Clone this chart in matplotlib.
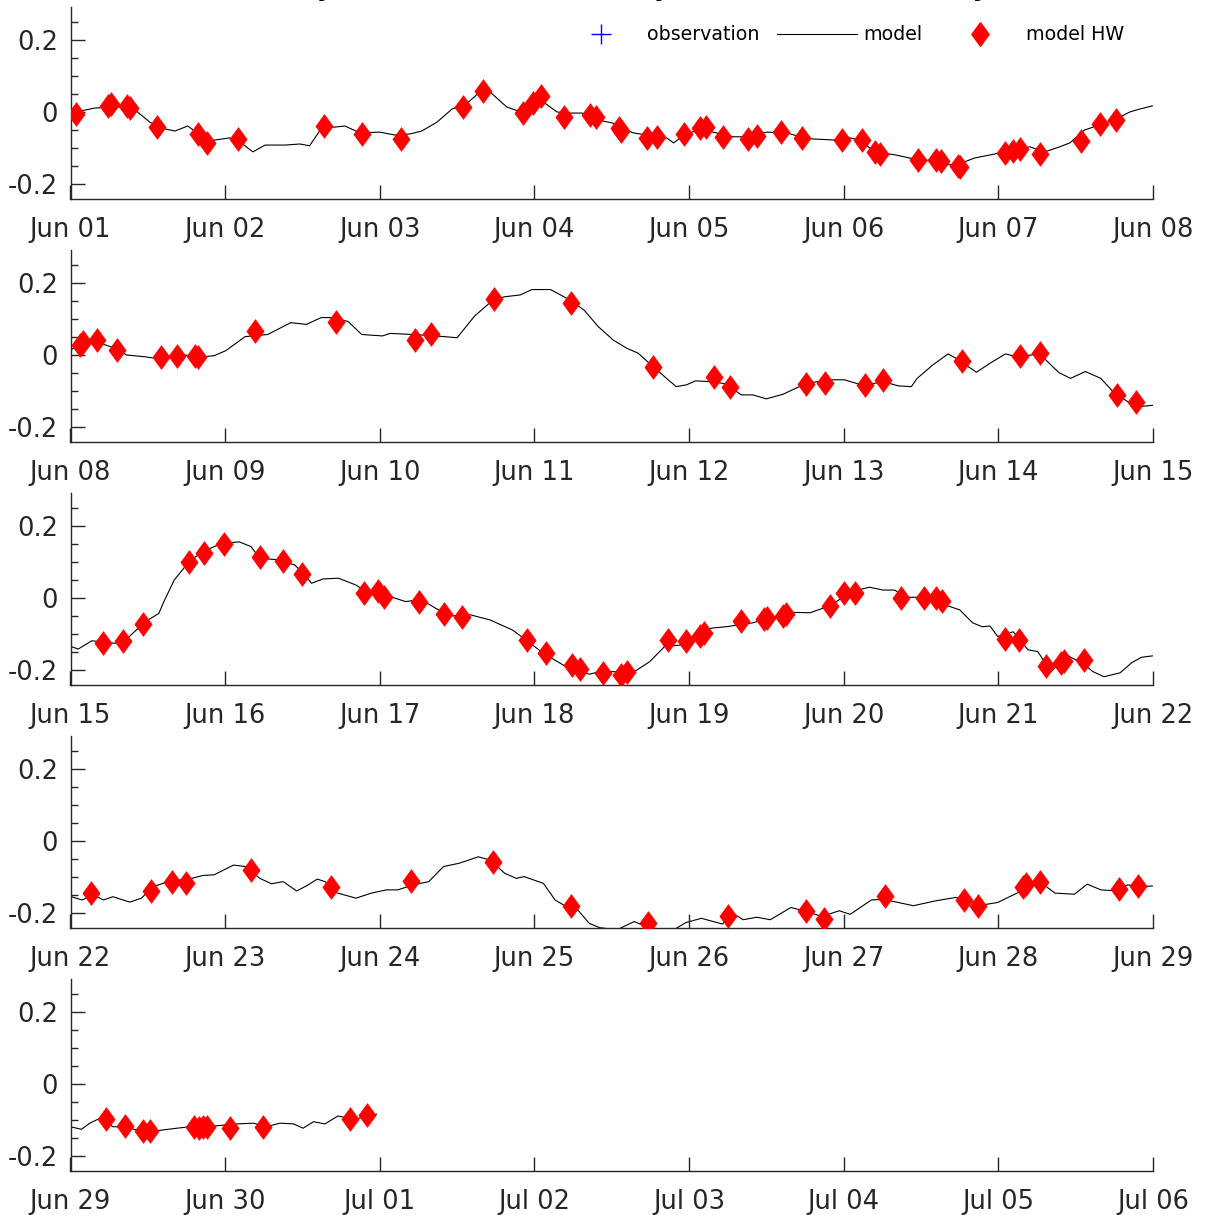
import numpy as np
import matplotlib
matplotlib.use("Agg")
import matplotlib.pyplot as plt
import matplotlib.dates as mdates
from matplotlib.lines import Line2D
from matplotlib.ticker import MultipleLocator, FixedLocator, FixedFormatter
from matplotlib.font_manager import FontProperties

plt.rcParams['axes.unicode_minus'] = False
plt.rcParams['font.family'] = ['DejaVu Sans']

# ---------------- data (hours since panel start, value in m) ----------------
panel_starts = ['2021-06-01', '2021-06-08', '2021-06-15', '2021-06-22', '2021-06-29']

p1_model = [(0, -0.003), (3.8, 0.011), (7.7, 0.014), (10.0, 0.006), (12.3, -0.028), (13.9, -0.044),
            (16.2, -0.053), (18.2, -0.039), (20.1, -0.064), (21.3, -0.086), (22.4, -0.078), (24.7, -0.072),
            (26.3, -0.083), (28.3, -0.111), (30.2, -0.092), (33.3, -0.092), (35.6, -0.089), (37.1, -0.094),
            (39.0, -0.044), (41.0, -0.042), (42.6, -0.039), (44.9, -0.058), (48.0, -0.056), (50.3, -0.064),
            (52.7, -0.061), (54.5, -0.053), (56.9, -0.028), (59.2, 0.008), (61.2, 0.019), (62.8, 0.044),
            (64.0, 0.067), (65.1, 0.056), (67.7, 0.014), (69.4, 0.003), (71.3, 0.022), (73.0, 0.044),
            (73.6, 0.025), (75.5, 0.0), (77.5, -0.003), (79.4, -0.003), (82.6, -0.025), (84.2, -0.031),
            (87.3, -0.058), (89.4, -0.064), (92.5, -0.072), (93.6, -0.086), (95.0, -0.067), (97.7, -0.047),
            (99.7, -0.056), (102.8, -0.069), (104.9, -0.069), (108.1, -0.056), (111.2, -0.058), (113.2, -0.069),
            (115.2, -0.075), (118.6, -0.078), (120.9, -0.072), (122.5, -0.078), (124.8, -0.111), (127.9, -0.119),
            (131.0, -0.131), (134.1, -0.136), (136.4, -0.147), (138.0, -0.144), (140.3, -0.128), (143.4, -0.117),
            (145.8, -0.106), (148.9, -0.097), (151.2, -0.111), (153.5, -0.097), (155.1, -0.086), (157.4, -0.050),
            (159.7, -0.036), (162.0, -0.022), (164.4, 0.0), (165.9, 0.008), (167.9, 0.017)]
p1_hw = [(0.9, -0.006), (5.8, 0.017), (6.3, 0.022), (8.8, 0.017), (9.2, 0.011), (13.4, -0.042), (19.8, -0.061),
         (21.2, -0.086), (26.0, -0.075), (39.3, -0.039), (45.2, -0.061), (51.3, -0.075), (60.9, 0.014),
         (64.0, 0.058), (70.2, -0.003), (71.8, 0.025), (73.0, 0.044), (76.6, -0.014), (80.6, -0.008),
         (81.5, -0.014), (85.1, -0.044), (85.4, -0.053), (89.4, -0.072), (91.1, -0.069), (95.2, -0.061),
         (97.7, -0.044), (98.6, -0.042), (101.2, -0.069), (105.1, -0.075), (106.5, -0.067), (110.2, -0.056),
         (113.6, -0.072), (119.8, -0.078), (122.9, -0.078), (124.9, -0.111), (125.6, -0.117), (131.5, -0.133),
         (134.3, -0.133), (135.1, -0.136), (137.7, -0.150), (138.1, -0.153), (145.0, -0.114), (146.2, -0.108),
         (147.3, -0.103), (150.4, -0.117), (156.9, -0.081), (159.7, -0.033), (162.3, -0.022)]

p2_model = [(0.1, 0.014), (1.8, 0.039), (3.9, 0.037), (6.9, 0.019), (8.7, 0.0), (11.6, -0.005), (13.4, -0.010),
            (16.4, 0.002), (20.5, -0.005), (22.3, -0.002), (24.1, 0.012), (27.1, 0.051), (30.6, 0.057),
            (34.2, 0.090), (36.6, 0.085), (38.9, 0.104), (40.7, 0.104), (43.1, 0.093), (45.2, 0.057),
            (48.4, 0.053), (49.6, 0.060), (53.2, 0.057), (56.7, 0.053), (60.0, 0.048), (62.7, 0.108),
            (65.7, 0.155), (67.4, 0.162), (69.8, 0.167), (71.6, 0.182), (74.5, 0.182), (77.5, 0.153),
            (79.7, 0.125), (81.9, 0.079), (84.2, 0.042), (86.3, 0.019), (88.1, 0.005), (90.4, -0.032),
            (92.5, -0.065), (94.0, -0.088), (95.6, -0.083), (97.0, -0.072), (99.2, -0.074), (101.7, -0.080),
            (104.1, -0.111), (105.9, -0.111), (108.0, -0.122), (110.6, -0.109), (114.2, -0.079), (117.8, -0.069),
            (120.1, -0.069), (123.1, -0.085), (126.1, -0.074), (128.5, -0.086), (130.5, -0.088), (131.4, -0.065),
            (133.8, -0.028), (136.2, 0.003), (137.4, -0.009), (140.6, -0.048), (142.7, -0.023), (145.1, 0.003),
            (146.9, -0.005), (150.4, 0.003), (153.4, -0.049), (155.2, -0.065), (157.5, -0.046), (159.9, -0.065),
            (162.0, -0.106), (164.1, -0.130), (166.2, -0.143), (167.9, -0.140)]
p2_hw = [(1.5, 0.028), (2.0, 0.037), (4.1, 0.042), (7.2, 0.014), (14.0, -0.006), (16.5, -0.003), (19.3, -0.003),
         (19.8, -0.006), (28.7, 0.068), (41.2, 0.093), (53.5, 0.042), (55.9, 0.058), (65.7, 0.155), (77.6, 0.145),
         (90.4, -0.033), (99.8, -0.061), (102.3, -0.089), (114.2, -0.081), (117.1, -0.079), (123.3, -0.083),
         (126.1, -0.069), (138.4, -0.016), (147.3, -0.003), (150.4, 0.005), (162.4, -0.111), (165.4, -0.132)]

p3_model = [(0.1, -0.135), (1.2, -0.142), (3.3, -0.119), (6.9, -0.126), (9.2, -0.106), (11.6, -0.066),
            (13.7, -0.043), (14.6, -0.006), (16.1, 0.050), (18.4, 0.101), (20.5, 0.129), (23.5, 0.152),
            (26.2, 0.156), (28.0, 0.143), (29.4, 0.110), (31.8, 0.107), (34.8, 0.092), (36.6, 0.059),
            (37.4, 0.041), (39.2, 0.053), (41.6, 0.055), (44.3, 0.036), (45.8, 0.018), (47.8, 0.018),
            (49.6, 0.004), (52.0, -0.010), (54.4, -0.004), (56.7, -0.029), (59.1, -0.050), (62.1, -0.047),
            (65.1, -0.061), (68.6, -0.089), (71.0, -0.121), (73.4, -0.154), (76.9, -0.191), (80.5, -0.212),
            (82.1, -0.205), (87.5, -0.205), (89.9, -0.177), (92.2, -0.135), (94.6, -0.131), (99.4, -0.084),
            (101.7, -0.080), (105.9, -0.069), (111.8, -0.040), (114.8, -0.041), (117.8, -0.022), (121.3, 0.018),
            (124.0, 0.030), (126.1, 0.022), (127.9, 0.022), (129.7, 0.002), (132.0, 0.002), (136.2, -0.022),
            (138.0, -0.033), (140.0, -0.069), (141.5, -0.080), (142.7, -0.078), (143.9, -0.107), (146.3, -0.094),
            (148.6, -0.144), (150.1, -0.149), (152.2, -0.205), (154.5, -0.158), (157.0, -0.181), (158.7, -0.205),
            (160.4, -0.219), (162.9, -0.208), (164.7, -0.180), (166.2, -0.165), (167.9, -0.161)]
p3_hw = [(5.1, -0.126), (8.2, -0.119), (11.2, -0.072), (18.4, 0.101), (20.7, 0.126), (23.8, 0.150), (29.4, 0.113),
         (33.0, 0.103), (36.0, 0.066), (45.5, 0.013), (47.7, 0.019), (48.7, 0.002), (54.1, -0.010), (57.9, -0.045),
         (60.8, -0.054), (70.9, -0.117), (73.8, -0.154), (77.8, -0.186), (79.0, -0.198), (82.7, -0.209),
         (85.4, -0.214), (86.3, -0.207), (92.8, -0.118), (95.5, -0.121), (97.7, -0.106), (98.3, -0.098),
         (104.0, -0.063), (107.7, -0.059), (108.1, -0.056), (110.5, -0.050), (111.0, -0.045), (117.8, -0.022),
         (120.1, 0.013), (121.8, 0.015), (128.9, -0.001), (132.5, -0.001), (134.3, -0.001), (135.3, -0.007),
         (145.1, -0.115), (147.2, -0.118), (151.4, -0.189), (153.7, -0.181), (154.2, -0.174), (157.3, -0.172)]

p4_model = [(0.1, -0.155), (1.8, -0.164), (3.6, -0.150), (5.1, -0.164), (6.6, -0.155), (9.2, -0.170),
            (11.0, -0.159), (12.8, -0.127), (15.2, -0.113), (18.8, -0.104), (20.5, -0.096), (22.3, -0.094),
            (25.3, -0.067), (27.1, -0.071), (29.4, -0.104), (31.2, -0.119), (33.0, -0.113), (35.1, -0.139),
            (36.6, -0.125), (38.3, -0.106), (39.5, -0.113), (41.3, -0.144), (44.3, -0.159), (46.7, -0.145),
            (49.0, -0.136), (50.8, -0.136), (53.2, -0.122), (55.6, -0.113), (57.9, -0.071), (60.3, -0.062),
            (63.3, -0.044), (65.1, -0.053), (67.4, -0.090), (69.2, -0.104), (70.4, -0.099), (73.4, -0.118),
            (75.2, -0.164), (76.9, -0.182), (78.7, -0.191), (80.5, -0.229), (82.1, -0.241), (84.8, -0.247),
            (87.5, -0.224), (89.3, -0.238), (92.2, -0.249), (94.0, -0.243), (95.5, -0.227), (97.9, -0.215),
            (101.2, -0.231), (102.6, -0.199), (104.4, -0.219), (106.5, -0.212), (108.6, -0.219), (111.8, -0.185),
            (114.2, -0.196), (116.6, -0.210), (119.3, -0.194), (121.0, -0.204), (124.3, -0.164), (126.1, -0.162),
            (130.8, -0.180), (134.4, -0.166), (137.4, -0.157), (141.5, -0.178), (143.9, -0.171), (146.9, -0.145),
            (150.4, -0.113), (152.8, -0.145), (155.8, -0.148), (157.8, -0.120), (159.9, -0.136), (161.7, -0.138),
            (164.1, -0.122), (166.2, -0.127), (167.9, -0.125)]
p4_hw = [(3.2, -0.145), (12.5, -0.138), (15.8, -0.113), (18.0, -0.116), (28.0, -0.081), (40.4, -0.127),
         (52.9, -0.110), (65.5, -0.058), (77.6, -0.180), (89.7, -0.229), (102.1, -0.210), (114.2, -0.194),
         (116.9, -0.218), (126.4, -0.152), (138.7, -0.164), (140.9, -0.180), (147.8, -0.127), (148.3, -0.119),
         (150.4, -0.113), (162.7, -0.134), (165.7, -0.125)]

p5_model = [(0, -0.119), (1.7, -0.126), (3.0, -0.109), (4.6, -0.095), (6.6, -0.119), (8.2, -0.119),
            (10.3, -0.128), (13.4, -0.130), (16.5, -0.123), (18.5, -0.119), (22.2, -0.117), (25.8, -0.111),
            (28.4, -0.109), (30.4, -0.119), (32.5, -0.109), (34.6, -0.111), (36.1, -0.123), (37.7, -0.105),
            (39.5, -0.111), (41.5, -0.089), (43.9, -0.098), (46.0, -0.091), (47.5, -0.084)]
p5_hw = [(5.5, -0.098), (8.5, -0.116), (11.3, -0.130), (12.4, -0.130), (19.1, -0.120), (20.0, -0.123),
         (20.6, -0.120), (21.2, -0.119), (24.7, -0.123), (29.8, -0.119), (43.3, -0.098), (46.0, -0.086)]

obs_t = []      # no observations available
obs_v = []

y_ticks = [-0.2, 0, 0.2]
y_tick_labels = ['-0.2', '0', '0.2']
legend_labels = ['observation', 'model', 'model HW']
title_text = 'Sea level anomaly at the station for every season of their hourly model'

models = [p1_model, p2_model, p3_model, p4_model, p5_model]
hws = [p1_hw, p2_hw, p3_hw, p4_hw, p5_hw]

# ---------------- figure ----------------
W, H = 1211, 1215
fig = plt.figure(figsize=(W / 100, H / 100), dpi=100)
diamond = [(0, 1), (0.73, 0), (0, -1), (-0.73, 0), (0, 1)]
txt_col = '#262626'

left = 70.5 / W
width = (1153 - 70.5) / W
ph = 192 / H

for k in range(5):
    start = np.datetime64(panel_starts[k] + 'T00:00')
    bottom = 1 - (199 + 243 * k) / H
    ax = fig.add_axes([left, bottom, width, ph])

    mt = [start + np.timedelta64(int(round(h * 60)), 'm') for h, _ in models[k]]
    mv = [v for _, v in models[k]]
    ht = [start + np.timedelta64(int(round(h * 60)), 'm') for h, _ in hws[k]]
    hv = [v for _, v in hws[k]]

    ax.plot(mt, mv, color='black', lw=0.8, zorder=2)
    ax.plot(ht, hv, ls='none', marker=diamond, ms=17, color='red', mec='red', mew=0.5, zorder=3)

    ax.set_xlim(start, start + np.timedelta64(7, 'D'))
    ax.set_ylim(-0.242, 0.292)
    ax.yaxis.set_major_locator(FixedLocator(y_ticks))
    ax.yaxis.set_major_formatter(FixedFormatter(y_tick_labels))
    ax.yaxis.set_minor_locator(MultipleLocator(0.05))
    ax.xaxis.set_major_locator(mdates.DayLocator())
    ax.xaxis.set_major_formatter(mdates.DateFormatter('%b %d'))

    for s in ['top', 'right']:
        ax.spines[s].set_visible(False)
    for s in ['left', 'bottom']:
        ax.spines[s].set_color(txt_col)
        ax.spines[s].set_linewidth(1.0)
    ax.tick_params(axis='both', which='major', direction='in', length=10, width=1,
                   colors=txt_col, labelsize=18.5)
    ax.tick_params(axis='y', which='minor', direction='in', length=5, width=1, colors=txt_col)
    ax.tick_params(axis='x', pad=13)
    ax.tick_params(axis='y', pad=9)

    if k == 0:
        handles = [Line2D([], [], ls='none', marker='+', color='blue', ms=14, mew=1),
                   Line2D([], [], color='black', lw=0.8),
                   Line2D([], [], ls='none', marker=diamond, ms=17, color='red', mec='red')]
        ax.plot(obs_t, obs_v, ls='none', marker='+', color='blue')
        ax.legend(handles, legend_labels, loc='center right',
                  bbox_to_anchor=(1124 / W, 1 - 35 / H), bbox_transform=fig.transFigure,
                  ncol=3, frameon=False, fontsize=13.7, handlelength=4.2, handletextpad=0.32,
                  columnspacing=0.92, borderpad=0, borderaxespad=0)

# --- title: mostly above the canvas, only the descenders of its "y"s show ---
renderer = fig.canvas.get_renderer()
def y_centers(fs):
    prop = FontProperties(family='DejaVu Sans', weight='bold', size=fs)
    wy = renderer.get_text_width_height_descent('y', prop, ismath=False)[0]
    out = []
    for i, ch in enumerate(title_text):
        if ch == 'y':
            w = renderer.get_text_width_height_descent(title_text[:i], prop, ismath=False)[0]
            out.append(w + wy / 2)
    return out

target_first, target_last = 325.0, 980.0
c = y_centers(18)
fs = 18 * (target_last - target_first) / (c[-1] - c[0])
c = y_centers(fs)
x0 = target_first - c[0]
fig.text(x0 / W, 1 + 4 / H, title_text, ha='left', va='baseline', fontsize=fs, fontweight='bold')

fig.savefig('out.png', dpi=100)
